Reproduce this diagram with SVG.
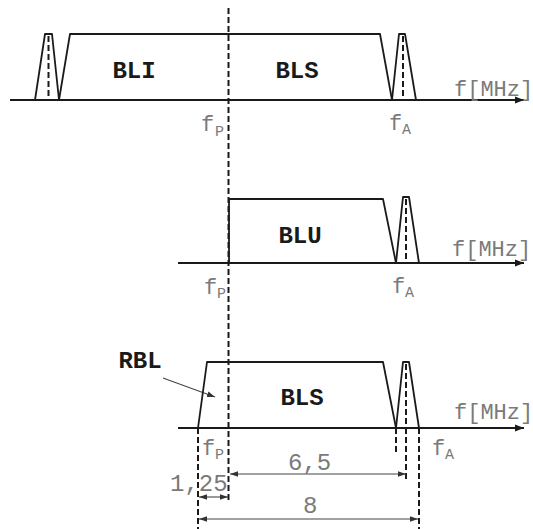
<svg xmlns="http://www.w3.org/2000/svg" width="533" height="529" viewBox="0 0 533 529">
<defs>
<style>
.ln{fill:none;stroke:#1a1a1a;stroke-width:1.8;stroke-linejoin:round}
.ax{fill:none;stroke:#1a1a1a;stroke-width:1.8}
.dsh{fill:none;stroke:#1a1a1a;stroke-width:2;stroke-dasharray:6 3}
.dim{fill:none;stroke:#444;stroke-width:1.1}
.g{font-family:"Liberation Mono","Courier New",monospace;font-size:22px;fill:#7a7a7a}
.n{font-family:"Liberation Mono","Courier New",monospace;font-size:24px;fill:#7a7a7a}
.sub{font-family:"Liberation Mono","Courier New",monospace;font-size:15px;fill:#7a7a7a}
.b{font-family:"Liberation Mono","Courier New",monospace;font-size:24px;font-weight:bold;fill:#1a1a1a;text-anchor:middle}
</style>
<marker id="ah" viewBox="0 0 10 10" refX="10" refY="5" markerWidth="9" markerHeight="9" markerUnits="userSpaceOnUse" orient="auto-start-reverse">
<path d="M0,1 L10,5 L0,9 Z" fill="#1a1a1a"/>
</marker>
<marker id="da" viewBox="0 0 10 10" refX="10" refY="5" markerWidth="8" markerHeight="8" markerUnits="userSpaceOnUse" orient="auto-start-reverse">
<path d="M0,1.5 L10,5 L0,8.5 Z" fill="#333"/>
</marker>
</defs>
<rect width="533" height="529" fill="#fff"/>

<g id="connectors">
<line class="dsh" x1="228.5" y1="8" x2="228.5" y2="502"/>
<line class="ax" x1="10" y1="100" x2="524" y2="100" marker-end="url(#ah)"/>
<line class="ax" x1="178" y1="263" x2="524" y2="263" marker-end="url(#ah)"/>
<line class="ax" x1="178" y1="428" x2="524" y2="428" marker-end="url(#ah)"/>
<line class="dim" x1="163" y1="378" x2="215" y2="397" marker-end="url(#da)"/>
</g>

<g id="panel-top">
<path class="ln" d="M35,100 L45,34 L52,34 L59,100"/>
<line class="dsh" x1="48.5" y1="36" x2="48.5" y2="100"/>
<path class="ln" d="M59,100 L70,34 L380,34 L392,100"/>
<path class="ln" d="M392,100 L399,34 L405,34 L416,100"/>
<line class="dsh" x1="403" y1="36" x2="403" y2="100"/>
<text class="b" x="134" y="78">BLI</text>
<text class="b" x="297" y="78">BLS</text>
<text class="g" x="454" y="96">f[MHz]</text>
<text class="g" x="201" y="131">f</text><text class="sub" x="215" y="136">P</text>
<text class="g" x="389" y="130">f</text><text class="sub" x="402" y="134">A</text>
</g>

<g id="panel-middle">
<path class="ln" d="M229,263 L229,199 L383,199 L396,263"/>
<path class="ln" d="M396,263 L403,197 L409,197 L419,263"/>
<line class="dsh" x1="406" y1="199" x2="406" y2="263"/>
<text class="b" x="300" y="243">BLU</text>
<text class="g" x="452" y="256">f[MHz]</text>
<text class="g" x="204" y="294">f</text><text class="sub" x="217" y="298">P</text>
<text class="g" x="392" y="293">f</text><text class="sub" x="405" y="297">A</text>
</g>

<g id="panel-bottom">
<path class="ln" d="M198,428 L207,362 L383,362 L396,428"/>
<path class="ln" d="M396,428 L403,362 L409,362 L419,428"/>
<line class="dsh" x1="406" y1="364" x2="406" y2="428"/>
<text class="b" x="302" y="405">BLS</text>
<text class="b" x="140" y="368">RBL</text>
<text class="g" x="454" y="419">f[MHz]</text>
<text class="g" x="202" y="455">f</text><text class="sub" x="215" y="459">P</text>
<text class="g" x="432" y="455">f</text><text class="sub" x="445" y="459">A</text>
</g>

<g id="dimensions">
<line class="dsh" x1="198" y1="428" x2="198" y2="529"/>
<line class="dsh" x1="396" y1="428" x2="396" y2="454"/>
<line class="dsh" x1="406" y1="428" x2="406" y2="480"/>
<line class="dsh" x1="419" y1="428" x2="419" y2="529"/>
<line class="dim" x1="230" y1="474" x2="406" y2="474" marker-start="url(#da)" marker-end="url(#da)"/>
<line class="dim" x1="199" y1="497" x2="228" y2="497" marker-start="url(#da)" marker-end="url(#da)"/>
<line class="dim" x1="199" y1="519" x2="418" y2="519" marker-start="url(#da)" marker-end="url(#da)"/>
<text class="n" x="288" y="470">6,5</text>
<text class="n" x="170" y="491">1,25</text>
<text class="n" x="303" y="513">8</text>
</g>
</svg>
